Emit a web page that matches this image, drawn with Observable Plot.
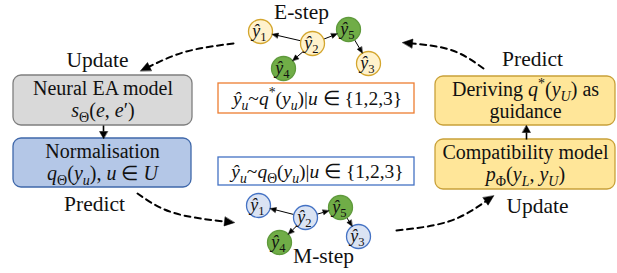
<!DOCTYPE html>
<html><head><meta charset="utf-8">
<script src="https://cdn.jsdelivr.net/npm/d3@7"></script>
<script src="https://cdn.jsdelivr.net/npm/@observablehq/plot@0.6"></script>
<style>
html,body{margin:0;padding:0;background:#fff;}
#chart svg{display:block;}
#chart svg text, #chart svg tspan{font-family:"Liberation Serif","Times New Roman",serif !important;}
</style>
</head><body><div id="chart"></div>
<script>
// ---------- content ----------
const boxLines = [
  ["Neural EA model", "$s$_Θ($e$, $e$′)"],
  ["Normalisation", "$q$_Θ($y$_{$u$}), $u$ ∈ $U$"],
  ["Deriving $q$^{*}($y$_{$U$}) as", "guidance"],
  ["Compatibility model", "$p$_Φ($y$_{$L$}, $y$_{$U$})"]
];
const stepNames = ["E-step", "M-step"];
const actionLabels = ["Update", "Predict", "Predict", "Update"];
const nodeIds = [1, 2, 3, 4, 5];
const labelledNodes = [4, 5];
const edges = [[2, 1], [2, 4], [2, 5], [5, 3]];
const formulas = [
  "$ŷ$_{$u$}~$q$^{*}($y$_{$u$})|$u$ ∈ {1,2,3}",
  "$ŷ$_{$u$}~$q$_Θ($y$_{$u$})|$u$ ∈ {1,2,3}"
];

// ---------- layout (diagram geometry, pixels) ----------
const boxGeom = [
  {x1: 13, x2: 192, y1: 75, y2: 125, fill: "#d9d9d9", stroke: "#7f7f7f"},
  {x1: 13, x2: 191, y1: 138, y2: 187, fill: "#b4c7e7", stroke: "#3f68aa"},
  {x1: 435, x2: 615, y1: 76, y2: 125, fill: "#ffe699", stroke: "#c9a13a"},
  {x1: 435, x2: 615, y1: 139, y2: 189, fill: "#ffe699", stroke: "#c9a13a"}
];
const formulaGeom = [
  {x1: 218, x2: 414, y1: 83, y2: 113, stroke: "#ed7d31", ty: 104},
  {x1: 218, x2: 414, y1: 157, y2: 185, stroke: "#4472c4", ty: 177}
];
const stepGeom = [
  {x: 301, y: 18, fill: "#fff2cc", stroke: "#d4a62e",
   nodes: {1: [260, 31], 2: [312, 43], 3: [368, 63], 4: [283, 68], 5: [348, 29]}},
  {x: 323, y: 262, fill: "#dae3f3", stroke: "#4472c4",
   nodes: {1: [258, 205], 2: [305, 217], 3: [358, 236], 4: [279, 242], 5: [340, 207]}}
];
const actionGeom = [[97, 66], [94, 210], [532, 65], [537, 212]];
const cycleCurves = [
  [[233, 43], [186, 51], [149, 66]],
  [[483, 68], [452, 50], [412, 43]],
  [[137, 193], [172, 212], [224, 221]],
  [[396, 230], [448, 221], [485, 201]]
];
const boxLinks = [
  {from: [103, 125], to: [103, 138]},
  {from: [526, 139], to: [526, 125]}
];
const R = 12;

// ---------- derived mark data ----------
const rects = boxGeom.map((b, i) => ({...b, id: i}));
const boxTexts = boxLines.flatMap((lines, i) => lines.map((t, k) => ({
  text: t, x: (boxGeom[i].x1 + boxGeom[i].x2) / 2, y: boxGeom[i].y1 + 19 + k * 22
})));
const formulaTexts = formulas.map((t, i) => ({text: t, x: (formulaGeom[i].x1 + formulaGeom[i].x2) / 2 + 1, y: formulaGeom[i].ty}));
const stepTexts = stepNames.map((t, i) => ({text: t, x: stepGeom[i].x, y: stepGeom[i].y}));
const actionTexts = actionLabels.map((t, i) => ({text: t, x: actionGeom[i][0], y: actionGeom[i][1]}));

const nodes = stepGeom.flatMap((s, si) => nodeIds.map(id => {
  const [x, y] = s.nodes[id];
  const lab = labelledNodes.includes(id);
  return {id, step: si, x, y, fill: lab ? "#70ad47" : s.fill, stroke: lab ? "#5f9a3c" : s.stroke, text: `$ŷ$_${id}`};
}));

const tris = [];
function addHead(tip, u, L, W, key) {
  const bx = tip[0] - u[0] * L, by = tip[1] - u[1] * L;
  const nx = -u[1], ny = u[0];
  tris.push({k: key, x: tip[0], y: tip[1]});
  tris.push({k: key, x: bx + nx * W / 2, y: by + ny * W / 2});
  tris.push({k: key, x: bx - nx * W / 2, y: by - ny * W / 2});
}
const shafts = [];
stepGeom.forEach((s, si) => edges.forEach(([a, b], ei) => {
  const A = s.nodes[a], B = s.nodes[b];
  const dx = B[0] - A[0], dy = B[1] - A[1], d = Math.hypot(dx, dy);
  const u = [dx / d, dy / d];
  const start = [A[0] + u[0] * R, A[1] + u[1] * R];
  const tip = [B[0] - u[0] * R, B[1] - u[1] * R];
  const L = 6;
  shafts.push({x1: start[0], y1: start[1], x2: tip[0] - u[0] * L, y2: tip[1] - u[1] * L, w: 1});
  addHead(tip, u, L, 5, `e${si}${ei}`);
}));
boxLinks.forEach((l, i) => {
  const dx = l.to[0] - l.from[0], dy = l.to[1] - l.from[1], d = Math.hypot(dx, dy);
  const u = [dx / d, dy / d], L = 7;
  shafts.push({x1: l.from[0], y1: l.from[1], x2: l.to[0] - u[0] * L, y2: l.to[1] - u[1] * L, w: 1.6});
  addHead(l.to, u, L, 8, `b${i}`);
});
const curvePts = cycleCurves.flatMap((pts, i) => pts.map(([x, y]) => ({c: i, x, y})));
cycleCurves.forEach((pts, i) => {
  const [P0, P1, P2] = pts;
  // end tangent of a 3-point natural cubic spline
  const tx = 1.25 * P2[0] - 1.5 * P1[0] + 0.25 * P0[0];
  const ty = 1.25 * P2[1] - 1.5 * P1[1] + 0.25 * P0[1];
  const d = Math.hypot(tx, ty), u = [tx / d, ty / d], L = 10;
  addHead([P2[0] + u[0] * L, P2[1] + u[1] * L], u, L, 9, `c${i}`);
});

// ---------- plot ----------
const serif = "Liberation Serif";
const chart = Plot.plot({
  width: 617, height: 273, margin: 0,
  x: {domain: [0, 617], axis: null},
  y: {domain: [0, 273], axis: null, reverse: true},
  color: {type: "identity"},
  style: {background: "white", fontFamily: "Liberation Serif"},
  marks: [
    Plot.line(curvePts, {x: "x", y: "y", z: "c", curve: "natural", stroke: "black", strokeWidth: 2, strokeDasharray: "6,4.5"}),
    Plot.rect(rects, {x1: "x1", x2: "x2", y1: "y1", y2: "y2", fill: "fill", stroke: "stroke", strokeWidth: 1.3, rx: 8}),
    Plot.rect(formulaGeom, {x1: "x1", x2: "x2", y1: "y1", y2: "y2", fill: "white", stroke: "stroke", strokeWidth: 1.3}),
    Plot.link(shafts, {x1: "x1", y1: "y1", x2: "x2", y2: "y2", stroke: "black", strokeWidth: "w"}),
    Plot.dot(nodes, {x: "x", y: "y", r: R, fill: "fill", stroke: "stroke", strokeWidth: 1.3}),
    Plot.line(tris, {x: "x", y: "y", z: "k", curve: "linear-closed", fill: "black", stroke: "black", strokeWidth: 0.5}),
    Plot.text(nodes, {x: d => d.x - 1, y: d => d.y + 5, text: "text", fontSize: 18, fontFamily: serif, lineAnchor: "bottom", fill: "#111"}),
    Plot.text(boxTexts, {x: "x", y: "y", text: "text", fontSize: 20, fontFamily: serif, lineAnchor: "bottom", fill: "#111"}),
    Plot.text(formulaTexts, {x: "x", y: "y", text: "text", fontSize: 19.5, fontFamily: serif, lineAnchor: "bottom", fill: "#111"}),
    Plot.text(stepTexts, {x: "x", y: "y", text: "text", fontSize: 21.5, fontFamily: serif, lineAnchor: "bottom", fill: "#111"}),
    Plot.text(actionTexts, {x: "x", y: "y", text: "text", fontSize: 21.5, fontFamily: serif, lineAnchor: "bottom", fill: "#111"})
  ]
});
document.getElementById("chart").append(chart);

// ---------- rich text: $italic$, _sub, ^sup ----------
function parseRich(s) {
  const segs = [];
  let italic = false, buf = "", i = 0;
  const push = (t, it, sh) => { if (t) segs.push({t, it, sh}); };
  while (i < s.length) {
    const c = s[i];
    if (c === "$") { push(buf, italic, 0); buf = ""; italic = !italic; i++; }
    else if (c === "_" || c === "^") {
      push(buf, italic, 0); buf = "";
      const sh = c === "_" ? -1 : 1; i++;
      let content;
      if (s[i] === "{") { const j = s.indexOf("}", i); content = s.slice(i + 1, j); i = j + 1; }
      else { content = s[i]; i++; }
      let it = italic, b = "";
      for (const ch of content) { if (ch === "$") { push(b, it, sh); b = ""; it = !it; } else b += ch; }
      push(b, it, sh);
    } else { buf += c; i++; }
  }
  push(buf, italic, 0);
  return segs;
}
d3.select(chart).selectAll("text").each(function() {
  const s = this.textContent;
  if (!/[$_^]/.test(s)) return;
  const fs = parseFloat(getComputedStyle(this).fontSize) || 20;
  const el = d3.select(this);
  el.text(null);
  let cur = 0;
  for (const g of parseRich(s)) {
    const off = g.sh < 0 ? 0.27 * fs : g.sh > 0 ? -0.38 * fs : 0;
    const ts = el.append("tspan").text(g.t);
    if (g.it) ts.attr("font-style", "italic");
    if (g.sh) ts.attr("font-size", (0.7 * fs) + "px");
    if (off !== cur) { ts.attr("dy", off - cur); cur = off; }
  }
});
</script>
</body></html>
